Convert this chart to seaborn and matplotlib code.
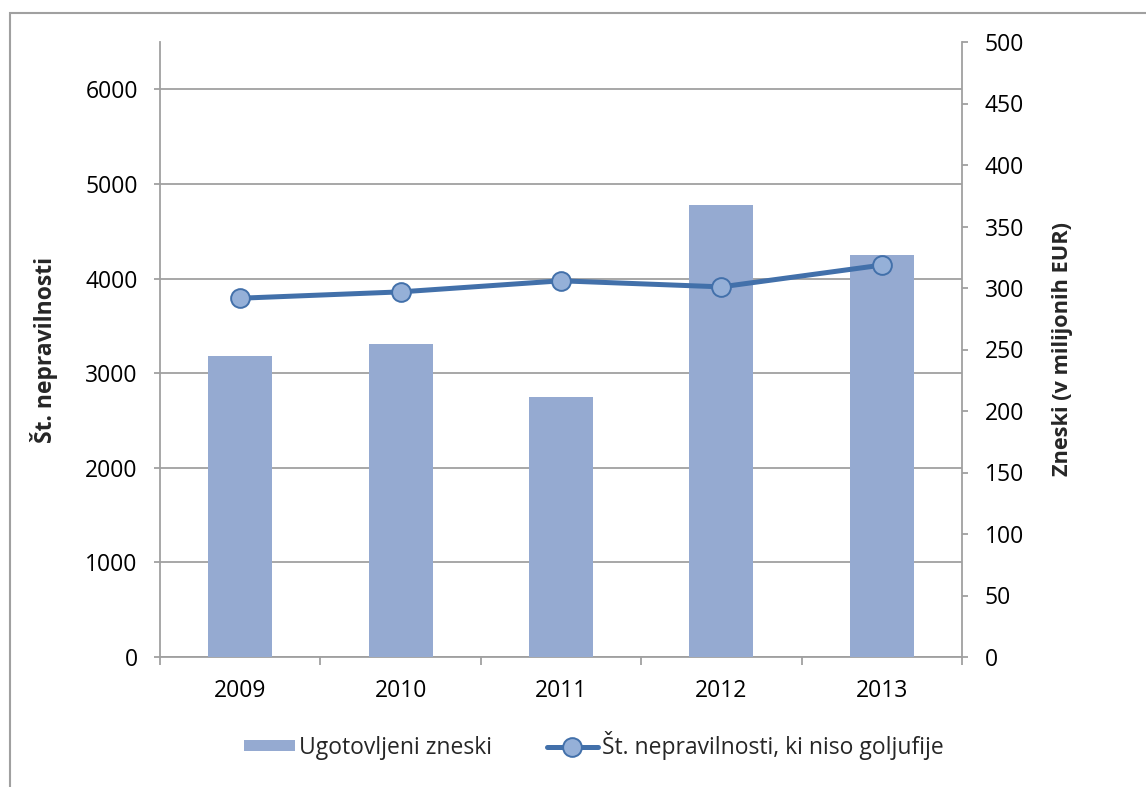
import matplotlib
matplotlib.use("Agg")
import matplotlib.pyplot as plt
import seaborn as sns
import numpy as np
from matplotlib.patches import Patch, Rectangle
from matplotlib.lines import Line2D
from matplotlib.ticker import FixedLocator

# ---- data ----
years = ["2009", "2010", "2011", "2012", "2013"]
zneski = [244.5, 254.5, 211.6, 367.2, 326.6]          # Ugotovljeni zneski (mio EUR), right axis
nepravilnosti = [3792, 3859, 3976, 3912, 4142]        # Št. nepravilnosti, left axis
left_ticks = [0, 1000, 2000, 3000, 4000, 5000, 6000]
right_ticks = [0, 50, 100, 150, 200, 250, 300, 350, 400, 450, 500]

bar_label = "Ugotovljeni zneski"
line_label = "Št. nepravilnosti, ki niso goljufije"
left_ylabel = "Št. nepravilnosti"
right_ylabel = "Zneski (v milijonih EUR)"

# ---- style ----
sns.set_style("white")
plt.rcParams["font.family"] = ["Open Sans", "DejaVu Sans"]
FS = 16.5
GRAY = "#A0A0A0"
BAR_C = "#95AAD1"
LINE_C = "#4270AA"
MFC = "#95B0D8"

fig = plt.figure(figsize=(11.46, 7.87), dpi=100)
ax = fig.add_axes([160/1146, 1-657/787, (962-160)/1146, (657-42)/787])
ax_bar = ax.twinx()
ax_line = ax.twinx()

# bars (right axis scale)
sns.barplot(x=years, y=zneski, ax=ax_bar, color=BAR_C, saturation=1, width=0.4,
            linewidth=0, errorbar=None)

# line (left axis scale)
sns.pointplot(x=years, y=nepravilnosti, ax=ax_line, color=LINE_C, markers="o",
              linestyles="-", errorbar=None, linewidth=3.6, markersize=13.5,
              markeredgewidth=1.4)
for ln in ax_line.lines:
    ln.set_markerfacecolor(MFC)
    ln.set_markeredgecolor(LINE_C)
    ln.set_solid_capstyle("round")

# ---- axes setup ----
for a in (ax, ax_bar, ax_line):
    a.set_xlim(-0.5, len(years) - 0.5)
    for s in a.spines.values():
        s.set_visible(False)

ax.set_ylim(0, 6500)
ax_line.set_ylim(0, 6500)
ax_bar.set_ylim(0, 500)

# left axis (primary) with grid
ax.yaxis.set_major_locator(FixedLocator(left_ticks))
ax.grid(axis="y", color=GRAY, linewidth=1.3)
ax.grid(axis="x", visible=False)
ax.set_axisbelow(True)
ax.spines["left"].set_visible(True)
ax.spines["bottom"].set_visible(True)
ax.spines["left"].set_color(GRAY)
ax.spines["bottom"].set_color(GRAY)
ax.spines["left"].set_linewidth(1.3)
ax.spines["bottom"].set_linewidth(1.3)
ax.tick_params(axis="y", which="major", direction="out", length=4, width=1.3,
               color=GRAY, labelsize=FS, pad=12, left=True, labelcolor="black")
ax.set_ylabel(left_ylabel, fontsize=FS, fontweight="bold")
ax.yaxis.set_label_coords(-0.127, 0.5)

# x axis
ax.set_xticks(range(len(years)))
ax.set_xticklabels(years)
ax.xaxis.set_minor_locator(FixedLocator(np.arange(-0.5, len(years), 1.0)))
ax.tick_params(axis="x", which="major", length=0, labelsize=FS, pad=16, labelcolor="black")
ax.tick_params(axis="x", which="minor", direction="out", length=5.5, width=1.3,
               color=GRAY, bottom=True)

# right axis (bars)
ax_bar.yaxis.set_major_locator(FixedLocator(right_ticks))
ax_bar.spines["right"].set_visible(True)
ax_bar.spines["right"].set_color(GRAY)
ax_bar.spines["right"].set_linewidth(1.3)
ax_bar.tick_params(axis="y", direction="out", length=4.5, width=1.3, color=GRAY,
                   labelsize=FS, pad=12, right=True, labelright=True,
                   left=False, labelleft=False, labelcolor="black")
ax_bar.set_ylabel(right_ylabel, fontsize=FS - 0.8, fontweight="bold")
ax_bar.yaxis.set_label_position("right")
ax_bar.yaxis.set_label_coords(1.112, 0.5)
ax_bar.grid(False)

# line axis: invisible y
ax_line.set_yticks([])
ax_line.set_ylabel("")
ax_line.grid(False)

# ---- legend ----
handles = [
    Patch(facecolor=BAR_C, edgecolor="none"),
    Line2D([], [], color=LINE_C, linewidth=3.6, marker="o", markersize=13.5,
           markerfacecolor=MFC, markeredgecolor=LINE_C, markeredgewidth=1.4),
]
fig.legend(handles, [bar_label, line_label], loc="center",
           bbox_to_anchor=(594/1146, 1-745/787), ncol=2, frameon=False,
           fontsize=FS, handlelength=2.2, handleheight=0.4, handletextpad=0.2,
           columnspacing=2.4)

# outer border (chart frame, cut off at right and bottom)
fig.add_artist(Rectangle((10/1146, -0.05), 1.2, 1 - 13/787 + 0.05,
                         transform=fig.transFigure, fill=False,
                         edgecolor=GRAY, linewidth=1.5))

fig.savefig("out.png", dpi=100)
